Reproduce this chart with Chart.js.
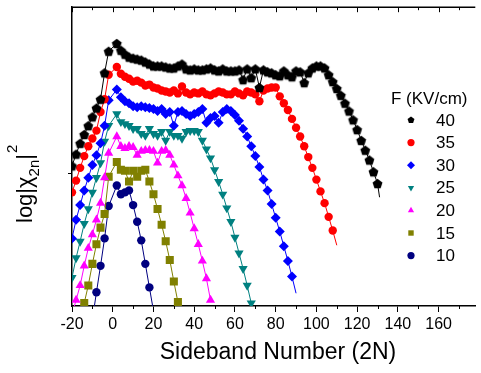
<!DOCTYPE html>
<html>
<head>
<meta charset="utf-8">
<script src="https://cdn.jsdelivr.net/npm/chart.js@4/dist/chart.umd.min.js"></script>
<style>
  html, body { margin: 0; padding: 0; background: #fff; }
</style>
</head>
<body>
<canvas id="chart" width="481" height="373"></canvas>
<script>
// Sideband spectra, log|chi_2n|^2 (arbitrary log units), one series per field
const fields = ['40', '35', '30', '25', '20', '15', '10'];
const xTicks = [-20, 0, 20, 40, 60, 80, 100, 120, 140, 160];
const yTick = 13.5;

const x40 = [-20,-18,-16,-14,-12,-10,-8,-6,-4,-2,
  2,4,6,8,10,12,14,16,18,20,22,24,26,28,30,32,34,36,38,40,
  42,44,46,48,50,52,54,56,58,60,62,64,66,68,70,72,74,76,78,80,
  82,84,86,88,90,92,94,96,98,100,102,104,106,108,110,112,114,116,118,120,
  122,124,126,128,130,131];
const y40 = [14.3,15.5,16.6,17.5,18.4,19.3,20.2,21.1,23.8,26.0,
  26.8,26.1,25.7,25.4,25.3,25.2,25.1,24.9,24.7,24.5,24.5,24.5,24.4,24.3,24.3,24.5,24.7,24.2,24.1,24.2,
  24.1,24.1,24.2,24.3,24.1,24.0,24.2,24.0,24.0,24.0,24.1,23.1,24.2,23.3,24.2,22.3,24.1,23.9,23.8,23.6,
  23.5,24.0,23.6,23.4,24.0,23.9,22.8,23.8,24.3,24.5,24.5,24.3,23.6,22.9,22.2,21.5,20.7,19.9,19.0,18.0,
  16.9,15.9,14.9,13.7,12.5,11.1];

const x35 = [-20,-18,-16,-14,-12,-10,-8,-6,-4,-2,
  2,4,6,8,10,12,14,16,18,20,22,24,26,28,30,32,34,36,38,40,
  42,44,46,48,50,52,54,56,58,60,62,64,66,68,70,72,74,76,78,80,
  82,84,86,88,90,92,94,96,98,100,102,104,106,108,110];
const y35 = [11.6,12.8,14.1,15.3,16.3,17.1,17.9,19.8,21.1,23.6,
  24.4,23.7,23.4,23.2,22.9,23.0,22.8,22.5,22.6,22.3,22.2,22.0,21.9,21.8,22.0,21.7,22.4,21.8,21.6,21.8,
  21.7,21.9,21.6,21.5,21.7,21.9,21.8,21.6,21.6,21.9,21.7,21.5,21.9,21.8,21.6,20.9,22.0,22.2,22.3,22.3,
  21.4,20.7,20.0,19.1,18.2,17.3,16.3,15.2,14.1,12.9,11.7,10.5,9.1,7.7,6.2];

const x30 = [-20,-18,-16,-14,-12,-10,-8,-6,-4,-2,
  2,4,6,8,10,12,14,16,18,20,22,24,26,28,30,32,34,36,38,40,
  42,44,46,48,50,52,54,56,58,60,62,64,66,68,70,72,74,76,78,80,
  82,84,86,88,90];
const y30 = [6.9,8.8,10.3,11.8,13.1,14.4,15.4,16.6,18.4,21.0,
  22.1,21.3,20.9,20.7,20.4,20.3,20.4,20.3,20.2,20.1,19.9,20.1,19.6,19.8,18.4,19.8,19.9,19.6,19.4,19.6,
  19.8,20.1,18.7,19.2,19.4,18.7,19.8,20.1,19.9,19.5,18.9,18.1,17.3,16.3,15.3,14.2,12.9,11.8,10.4,9.0,
  7.6,6.1,4.6,3.0,1.3];

const x25 = [-20,-18,-16,-14,-12,-10,-8,-6,-4,-2,
  2,4,6,8,10,12,14,16,18,20,22,24,26,28,30,32,34,36,38,40,
  42,44,46,48,50,52,54,56,58,60,62,64,66,68];
const y25 = [2.9,4.9,6.6,8.4,9.9,11.6,13.1,14.6,16.8,18.4,
  19.6,18.8,18.6,18.4,18.1,18.1,17.6,17.4,18.1,17.6,17.4,17.8,16.9,17.8,17.4,17.4,17.1,17.8,17.9,17.9,
  17.8,16.9,16.0,15.1,13.9,12.7,11.4,10.0,8.6,7.0,5.4,3.8,2.1,0.3];

const x20 = [-20,-18,-16,-14,-12,-10,-8,-6,-4,-2,
  2,4,6,8,10,12,14,16,18,20,22,24,26,28,30,32,34,36,38,40,
  42,44,46,48];
const y20 = [-0.9,0.6,2.1,4.1,5.9,7.3,8.8,10.5,13.1,15.6,
  17.3,16.3,16.1,16.3,16.2,15.4,15.8,15.9,15.9,15.8,14.6,15.8,15.9,15.4,14.4,13.3,12.3,11.0,9.5,7.9,
  6.3,4.6,2.8,0.6];

const x15 = [-16,-14,-12,-10,-8,-6,-4,-2,
  2,4,6,8,10,12,14,16,18,20,22,24,26,28,30,32];
const y15 = [-2.0,0.3,2.1,4.3,6.3,8.0,9.4,13.2,
  14.7,13.9,13.8,12.7,13.8,13.2,13.8,13.9,12.7,11.4,9.9,8.3,6.6,4.7,2.5,0.4];

const x10 = [-10,-8,-6,-4,-2,2,4,6,8,10,12,14,16,18,20];
const y10 = [-1.4,1.4,4.1,6.9,10.2,12.3,11.4,11.6,11.8,10.3,8.6,6.7,4.3,1.9,-0.5];

// line-only ends (the drawn line runs past the last symbol)
const bare40 = [131], bare35 = [110], bare30 = [90], bare25 = [];
const bare20 = [-20], bare15 = [-16], bare10 = [-10, 20];

const FONT = "'Liberation Sans', Arial, Helvetica, sans-serif";

function shape(g, kind, x, y, r) {
  g.beginPath();
  if (kind === 'circle') {
    g.arc(x, y, r, 0, Math.PI * 2);
  } else if (kind === 'pent') {
    for (let k = 0; k < 5; k++) {
      const a = -Math.PI / 2 + k * 2 * Math.PI / 5;
      const px = x + r * Math.cos(a), py = y + r * Math.sin(a);
      k ? g.lineTo(px, py) : g.moveTo(px, py);
    }
  } else if (kind === 'diamond') {
    g.moveTo(x, y - r); g.lineTo(x + r, y); g.lineTo(x, y + r); g.lineTo(x - r, y);
  } else if (kind === 'tri') {
    g.moveTo(x, y - r); g.lineTo(x + 0.866 * r, y + 0.5 * r); g.lineTo(x - 0.866 * r, y + 0.5 * r);
  } else if (kind === 'tridown') {
    g.moveTo(x, y + r); g.lineTo(x + 0.866 * r, y - 0.5 * r); g.lineTo(x - 0.866 * r, y - 0.5 * r);
  } else if (kind === 'square') {
    g.rect(x - r * 0.75, y - r * 0.75, r * 1.5, r * 1.5);
  }
  g.closePath();
}

function pentagon(r, color) {
  const c = document.createElement('canvas');
  const s = Math.ceil(r * 2 + 2);
  c.width = c.height = s;
  const g = c.getContext('2d');
  g.fillStyle = color;
  shape(g, 'pent', s / 2, s / 2 + 0.5, r);
  g.fill();
  return c;
}

const series = [
  { label: '40', xs: x40, ys: y40, bare: bare40, color: '#000000', style: pentagon(5.2, '#000000'), rot: 0, r: 5, mark: 'pent' },
  { label: '35', xs: x35, ys: y35, bare: bare35, color: '#ff0000', style: 'circle', rot: 0, r: 4.2, mark: 'circle' },
  { label: '30', xs: x30, ys: y30, bare: bare30, color: '#0000ff', style: 'rectRot', rot: 0, r: 5, mark: 'diamond' },
  { label: '25', xs: x25, ys: y25, bare: bare25, color: '#008080', style: 'triangle', rot: 180, r: 5.3, mark: 'tridown' },
  { label: '20', xs: x20, ys: y20, bare: bare20, color: '#ff00ff', style: 'triangle', rot: 0, r: 5.3, mark: 'tri' },
  { label: '15', xs: x15, ys: y15, bare: bare15, color: '#808000', style: 'rect', rot: 0, r: 5.7, mark: 'square' },
  { label: '10', xs: x10, ys: y10, bare: bare10, color: '#000080', style: 'circle', rot: 0, r: 4.2, mark: 'circle' }
];

const decor = {
  id: 'decor',
  afterDraw(chart) {
    const { ctx, chartArea: a, scales: { x } } = chart;
    ctx.save();
    ctx.strokeStyle = '#000';
    // top frame line with inward ticks
    ctx.lineWidth = 1.5;
    ctx.beginPath(); ctx.moveTo(a.left, a.top); ctx.lineTo(a.right, a.top); ctx.stroke();
    ctx.lineWidth = 1;
    for (let v = -20; v <= 180; v += 10) {
      const px = Math.round(x.getPixelForValue(v)) + 0.5;
      if (px > a.right) break;
      const major = v % 20 === 0;
      ctx.beginPath();
      if (!major) { ctx.moveTo(px, a.bottom); ctx.lineTo(px, a.bottom + 3); }
      ctx.moveTo(px, a.top); ctx.lineTo(px, a.top + (major ? 5 : 3));
      ctx.stroke();
    }

    ctx.fillStyle = '#000';
    // x title
    ctx.font = '23px ' + FONT;
    ctx.textAlign = 'center';
    ctx.textBaseline = 'alphabetic';
    ctx.fillText('Sideband Number (2N)', 278, 359);

    // y title: log|χ2n|² rotated
    ctx.save();
    ctx.translate(32, 223);
    ctx.rotate(-Math.PI / 2);
    ctx.textAlign = 'left';
    let w = 0;
    ctx.font = '22px ' + FONT;
    ctx.fillText('log|χ', 0, 0); w += ctx.measureText('log|χ').width;
    ctx.font = '15px ' + FONT;
    ctx.fillText('2n', w, 7); w += ctx.measureText('2n').width;
    ctx.font = '22px ' + FONT;
    ctx.fillText('|', w, 0); w += ctx.measureText('|').width;
    ctx.font = '15px ' + FONT;
    ctx.fillText('2', w + 1, -15);
    ctx.restore();

    // legend
    ctx.textAlign = 'left';
    ctx.textBaseline = 'middle';
    ctx.font = '17px ' + FONT;
    ctx.fillText('F (KV/cm)', 391, 99);
    series.forEach((s, i) => {
      const yy = 120 + i * 22.6;
      ctx.fillStyle = s.color;
      shape(ctx, s.mark, 411, yy, s.mark === 'diamond' ? 4 : 3.6);
      ctx.fill();
      ctx.fillStyle = '#000';
      ctx.fillText(fields[i], 436, yy + 1);
    });
    ctx.restore();
  }
};

new Chart(document.getElementById('chart'), {
  type: 'line',
  data: {
    datasets: series.map(s => ({
      label: s.label,
      data: s.xs.map((v, i) => ({ x: v, y: s.ys[i] })),
      borderColor: s.color,
      backgroundColor: s.color,
      borderWidth: 1,
      tension: 0,
      pointStyle: s.style,
      pointRotation: s.rot,
      pointRadius: ctx => (s.bare.includes(s.xs[ctx.dataIndex]) ? 0 : s.r),
      pointBorderWidth: 0,
      pointBackgroundColor: s.color
    }))
  },
  options: {
    responsive: false,
    animation: false,
    events: [],
    layout: { padding: { left: 0, right: 0, top: 1, bottom: 0 } },
    plugins: { legend: { display: false }, tooltip: { enabled: false } },
    scales: {
      x: {
        type: 'linear',
        min: -20,
        max: 178,
        afterBuildTicks: sc => { sc.ticks = xTicks.map(v => ({ value: v })); },
        afterFit: sc => { sc.height = 67; },
        ticks: {
          autoSkip: false,
          maxRotation: 0,
          padding: 3,
          color: '#000',
          font: { family: FONT, size: 16 },
          callback: v => String(v)
        },
        grid: { display: true, drawOnChartArea: false, drawTicks: true, tickLength: 6, color: '#000', lineWidth: 1 },
        border: { display: true, color: '#000', width: 1.5 }
      },
      y: {
        type: 'linear',
        min: 0,
        max: 30.5,
        afterBuildTicks: sc => { sc.ticks = [{ value: yTick }]; },
        afterFit: sc => { sc.width = 72; },
        ticks: { callback: () => '', padding: 0 },
        grid: { display: true, drawOnChartArea: false, drawTicks: true, tickLength: 4, color: '#000', lineWidth: 1 },
        border: { display: true, color: '#000', width: 1.5 }
      }
    }
  },
  plugins: [decor]
});
</script>
</body>
</html>
